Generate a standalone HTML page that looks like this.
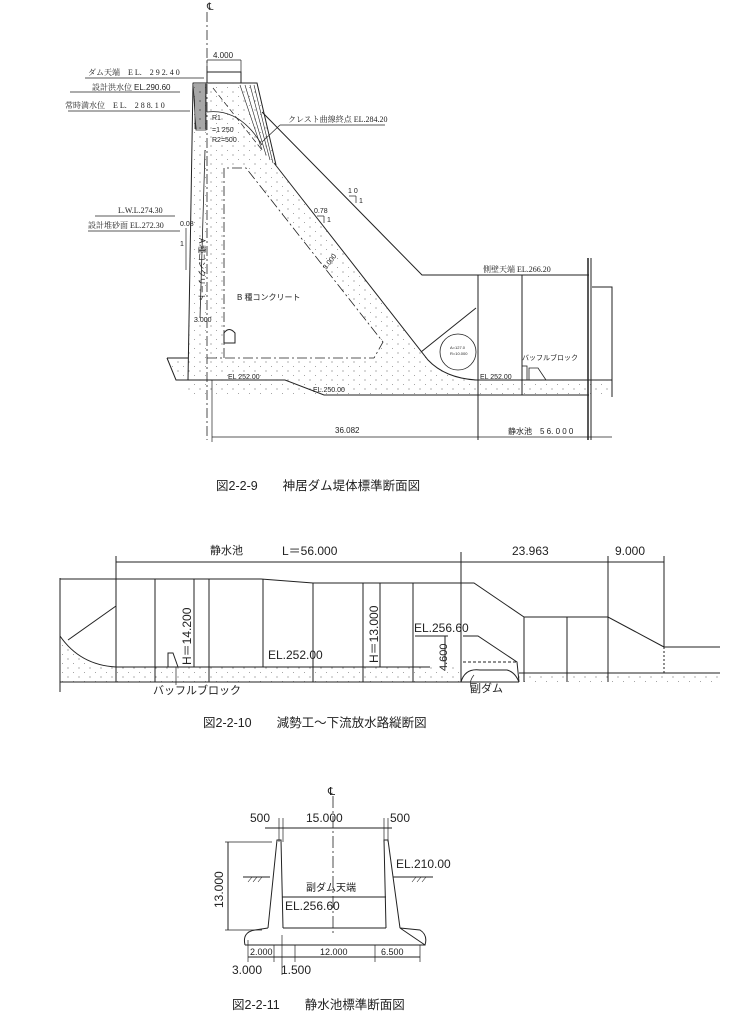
<!DOCTYPE html>
<html><head><meta charset="utf-8"><style>
html,body{margin:0;padding:0;background:#fff}
svg{display:block}
text{font-family:"Liberation Sans","Noto Sans CJK JP",sans-serif;fill:#222}
.s{font-family:"Liberation Serif","Noto Serif CJK SC",serif}
</style></head><body>
<svg width="731" height="1024" viewBox="0 0 731 1024" xmlns="http://www.w3.org/2000/svg">
<defs>
<pattern id="dots" width="11" height="9" patternUnits="userSpaceOnUse">
<circle cx="2" cy="2" r="0.6" fill="#777"/><circle cx="7.5" cy="6.5" r="0.5" fill="#888"/>
</pattern>
</defs>
<g stroke="#222" stroke-width="1" fill="none">
<!-- FIG 1 -->
<line x1="207" y1="12" x2="207" y2="440" stroke-dasharray="10,3,2,3" stroke-width="0.8"/>
<path d="M193,83 L257,83 L276,165 L428,360 Q445,378 476,380 L476,380 L285,380 L324,395 L285,380 L188,380 Z" fill="url(#dots)" stroke="none"/>
<path d="M167,358 L374,358 L383,342 L246,168 L224,168 L224,358" fill="#fff" stroke="none"/>
<path d="M167,358 L188,358 L188,380 L176,380 Z" fill="url(#dots)" stroke="none"/>
<rect x="188" y="380" width="424" height="15" fill="url(#dots)" stroke="none"/>
<rect x="207" y="72" width="34" height="11"/>
<line x1="207" y1="60" x2="241" y2="60" stroke-width="0.7"/>
<line x1="207" y1="60" x2="207" y2="72" stroke-width="0.7"/>
<line x1="241" y1="60" x2="241" y2="72" stroke-width="0.7"/>
<g stroke-width="0.8"><path d="M193,83 L206,83 L206,130 L196,130 Z"/>
<line x1="195" y1="84" x2="195" y2="129"/><line x1="197" y1="84" x2="197" y2="129"/><line x1="199" y1="84" x2="199" y2="129"/><line x1="201" y1="84" x2="201" y2="129"/><line x1="203" y1="84" x2="203" y2="129"/><line x1="205" y1="84" x2="205" y2="129"/></g>
<g stroke-width="0.6"><line x1="240" y1="85" x2="262" y2="150"/><line x1="245" y1="85" x2="266" y2="155"/><line x1="250" y1="85" x2="270" y2="160"/><line x1="254" y1="85" x2="273" y2="163"/></g>
<path d="M193,83 L257,83 L276,165"/>
<path d="M193,83 L188,380"/>
<path d="M207,112 Q240,108 262,145" stroke-width="0.8"/>
<line x1="213" y1="88" x2="262" y2="150" stroke-dasharray="6,3" stroke-width="0.7"/>
<path d="M262,112 L422,275 L589,275"/>
<path d="M274,163 L428,360 Q445,378 476,380"/>
<path d="M167,358 L188,358 M167,358 L176,380 L285,380 L324,395 L589,395"/>
<line x1="476" y1="380" x2="612" y2="380"/>
<path d="M224,358 L224,168 L246,168 L383,342 L374,358" stroke-dasharray="10,3,2,3" stroke-width="0.8"/>
<line x1="207" y1="358" x2="374" y2="358" stroke-dasharray="10,3,2,3" stroke-width="0.8"/>
<line x1="205" y1="150" x2="200" y2="318" stroke-width="0.8"/>
<path d="M224,343 L224,333 Q229,326 235,333 L235,343 Z"/>
<line x1="421" y1="352" x2="476" y2="308"/>
<circle cx="458" cy="352" r="18" stroke-width="0.8"/>
<line x1="478" y1="275" x2="478" y2="440"/>
<line x1="522" y1="275" x2="522" y2="395"/>
<line x1="588" y1="258" x2="588" y2="440" stroke-width="1.5"/>
<line x1="591" y1="258" x2="591" y2="440"/>
<path d="M592,287 L612,287 L612,397"/>
<path d="M529,380 L529,368 L538,368 L546,380" stroke-width="0.8"/>
<rect x="522" y="366" width="5" height="14" stroke-width="0.8"/>
<line x1="212" y1="437" x2="612" y2="437" stroke-width="0.7"/>
<line x1="212" y1="380" x2="212" y2="442" stroke-width="0.7"/>
<g stroke-width="0.7">
<line x1="85" y1="78" x2="204" y2="78"/>
<line x1="70" y1="92" x2="180" y2="92"/>
<line x1="68" y1="111" x2="190" y2="111"/>
<line x1="280" y1="125" x2="385" y2="125"/><line x1="280" y1="125" x2="262" y2="142"/>
<line x1="95" y1="216" x2="175" y2="216"/>
<line x1="88" y1="231" x2="180" y2="231"/>
<line x1="349" y1="196" x2="356" y2="196"/><line x1="356" y1="196" x2="356" y2="203"/>
<line x1="317" y1="216" x2="324" y2="216"/><line x1="324" y1="216" x2="324" y2="223"/>
<line x1="186" y1="228" x2="186" y2="270"/>
</g>
<!-- FIG 2 -->
<g>
<path d="M60,636 Q80,665 116,667 L430,667" />
<path d="M60,640 Q80,665 116,667 L116,682 L60,682 Z" fill="url(#dots)" stroke="none"/>
<rect x="116" y="667" width="345" height="15" fill="url(#dots)" stroke="none"/>
<rect x="519" y="673" width="200" height="9" fill="url(#dots)" stroke="none"/>
<path d="M60,579 L261,579 L313,583 L474,583 L524,617 L608,617 L664,647"/>
<path d="M664,647 L720,647 M664,673 L720,673"/>
<line x1="664" y1="647" x2="664" y2="673" stroke-dasharray="2,2"/>
<line x1="60" y1="682" x2="519" y2="682"/>
<line x1="60" y1="578" x2="60" y2="692"/>
<line x1="68" y1="640" x2="116" y2="606"/>
<line x1="116" y1="562" x2="664" y2="562"/>
<line x1="116" y1="556" x2="116" y2="682"/>
<line x1="461" y1="552" x2="461" y2="682"/>
<line x1="608" y1="556" x2="608" y2="682"/>
<line x1="664" y1="556" x2="664" y2="647"/>
<g>
<line x1="155" y1="579" x2="155" y2="682"/><line x1="194" y1="579" x2="194" y2="667"/><line x1="209" y1="579" x2="209" y2="682"/>
<line x1="263" y1="579" x2="263" y2="667"/><line x1="313" y1="583" x2="313" y2="682"/><line x1="363" y1="583" x2="363" y2="682"/>
<line x1="380" y1="583" x2="380" y2="667"/><line x1="413" y1="583" x2="413" y2="682"/>
<line x1="524" y1="617" x2="524" y2="682"/><line x1="567" y1="617" x2="567" y2="682"/>
</g>
<path d="M463,636 L478,636 L517,662 L519,682"/>
<path d="M461,682 Q465,668 480,670 L507,670 Q515,672 519,682"/>
<path d="M519,673 L664,673"/>
<line x1="415" y1="636" x2="448" y2="636"/>
<line x1="445" y1="636" x2="445" y2="667"/>
<line x1="463" y1="662" x2="517" y2="662" stroke-dasharray="3,2"/>
<path d="M168,667 L168,653 L173,653 L178,667"/>
<path d="M474,675 Q468,682 472,690" stroke-width="0.7"/>
<path d="M176,667 L176,685" stroke-width="0.7"/>
</g>
<!-- FIG 3 -->
<g>
<line x1="333" y1="796" x2="333" y2="935" stroke-dasharray="12,3,2,3" stroke-width="0.8"/>
<line x1="265" y1="828" x2="392" y2="828"/>
<line x1="279" y1="818" x2="279" y2="842" stroke-width="0.7"/><line x1="283" y1="818" x2="283" y2="842" stroke-width="0.7"/>
<line x1="384" y1="818" x2="384" y2="842" stroke-width="0.7"/><line x1="388" y1="818" x2="388" y2="842" stroke-width="0.7"/>
<path d="M268,928 L277,840 L281,840 L283,928"/>
<path d="M386,928 L384,840 L388,840 L400,928"/>
<path d="M245,945 Q242,932 255,930 L268,928 M283,928 L386,928 M400,928 L420,930 Q428,935 425,945 Z"/>
<line x1="245" y1="945" x2="425" y2="945"/>
<line x1="282" y1="897" x2="386" y2="897"/>
<line x1="243" y1="877" x2="270" y2="877"/><line x1="393" y1="877" x2="433" y2="877"/>
<g stroke-width="0.6"><line x1="248" y1="882" x2="252" y2="877"/><line x1="253" y1="882" x2="257" y2="877"/><line x1="258" y1="882" x2="262" y2="877"/><line x1="412" y1="882" x2="416" y2="877"/><line x1="417" y1="882" x2="421" y2="877"/><line x1="422" y1="882" x2="426" y2="877"/></g>
<line x1="228" y1="842" x2="228" y2="930"/>
<line x1="225" y1="842" x2="272" y2="842" stroke-width="0.7"/><line x1="225" y1="930" x2="262" y2="930" stroke-width="0.7"/>
<line x1="248" y1="957" x2="420" y2="957"/>
<g stroke-width="0.7"><line x1="248" y1="940" x2="248" y2="962"/><line x1="282" y1="935" x2="282" y2="975"/><line x1="295" y1="945" x2="295" y2="962"/><line x1="375" y1="945" x2="375" y2="962"/><line x1="420" y1="945" x2="420" y2="962"/><line x1="274" y1="945" x2="274" y2="962"/></g>
</g>
</g>
<g font-size="8">
<text x="207" y="10" font-size="10">℄</text>
<text x="213" y="58" font-size="8">4.000</text>
<text x="88" y="75" class="s">ダム天端　E L.　2 9 2. 4 0</text>
<text x="92" y="90" class="s">設計洪水位 <tspan font-family="Liberation Sans">EL.290.60</tspan></text>
<text x="65" y="108" class="s">常時満水位　E L.　2 8 8. 1 0</text>
<text x="288" y="122" class="s">クレスト曲線終点 EL.284.20</text>
<text x="212" y="120" font-size="7">R1</text>
<text x="212" y="132" font-size="7">=1 250</text>
<text x="212" y="142" font-size="7">R2=500</text>
<text x="348" y="193" font-size="7">1 0</text><text x="359" y="203" font-size="7">1</text>
<text x="314" y="213" font-size="7">0.78</text><text x="327" y="222" font-size="7">1</text>
<text x="118" y="213" class="s">L.W.L.274.30</text>
<text x="88" y="228" class="s">設計堆砂面 EL.272.30</text>
<text x="180" y="226" font-size="7">0.08</text>
<text x="180" y="246" font-size="7">1</text>
<text x="0" y="0" font-size="8" transform="translate(199,238) rotate(90)">A 種コンクリート</text>
<text x="194" y="322" font-size="7">3.000</text>
<text x="237" y="300">B 種コンクリート</text>
<text x="0" y="0" font-size="7" transform="translate(326,270) rotate(-52)">3.000</text>
<text x="483" y="272" class="s">側壁天端 EL.266.20</text>
<text x="522" y="360" font-size="7">バッフルブロック</text>
<text x="228" y="379" font-size="7">EL 252.00</text>
<text x="313" y="392" font-size="7">EL.250.00</text>
<text x="480" y="379" font-size="7">EL 252.00</text>
<text x="335" y="433" font-size="8">36.082</text>
<text x="508" y="434" font-size="8">静水池　5 6. 0 0 0</text>
<text x="450" y="349" font-size="4">A=127.0</text>
<text x="450" y="355" font-size="4">R=10.000</text>
<text x="216" y="490" font-size="12.5">図2-2-9　　神居ダム堤体標準断面図</text>
</g>
<g font-size="12">
<text x="210" y="554" font-size="11">静水池</text>
<text x="282" y="555">L＝56.000</text>
<text x="512" y="555">23.963</text>
<text x="615" y="555">9.000</text>
<text x="0" y="0" transform="translate(191,665) rotate(-90)">H＝14.200</text>
<text x="0" y="0" transform="translate(378,663) rotate(-90)">H＝13.000</text>
<text x="0" y="0" font-size="11" transform="translate(447,671) rotate(-90)">4.600</text>
<text x="414" y="632">EL.256.60</text>
<text x="268" y="659">EL.252.00</text>
<text x="153" y="694" font-size="11">バッフルブロック</text>
<text x="470" y="692" font-size="11">副ダム</text>
<text x="203" y="727" font-size="12.5">図2-2-10　　減勢工～下流放水路縦断図</text>
</g>
<g font-size="12">
<text x="328" y="795" font-size="11">℄</text>
<text x="250" y="822">500</text>
<text x="306" y="822">15.000</text>
<text x="390" y="822">500</text>
<text x="396" y="868">EL.210.00</text>
<text x="306" y="891" font-size="10">副ダム天端</text>
<text x="285" y="910">EL.256.60</text>
<text x="0" y="0" transform="translate(223,908) rotate(-90)">13.000</text>
<text x="250" y="955" font-size="9">2.000</text>
<text x="320" y="955" font-size="9">12.000</text>
<text x="381" y="955" font-size="9">6.500</text>
<text x="232" y="974">3.000</text>
<text x="281" y="974">1.500</text>
<text x="232" y="1009" font-size="12.5">図2-2-11　　静水池標準断面図</text>
</g>
</svg>
</body></html>
